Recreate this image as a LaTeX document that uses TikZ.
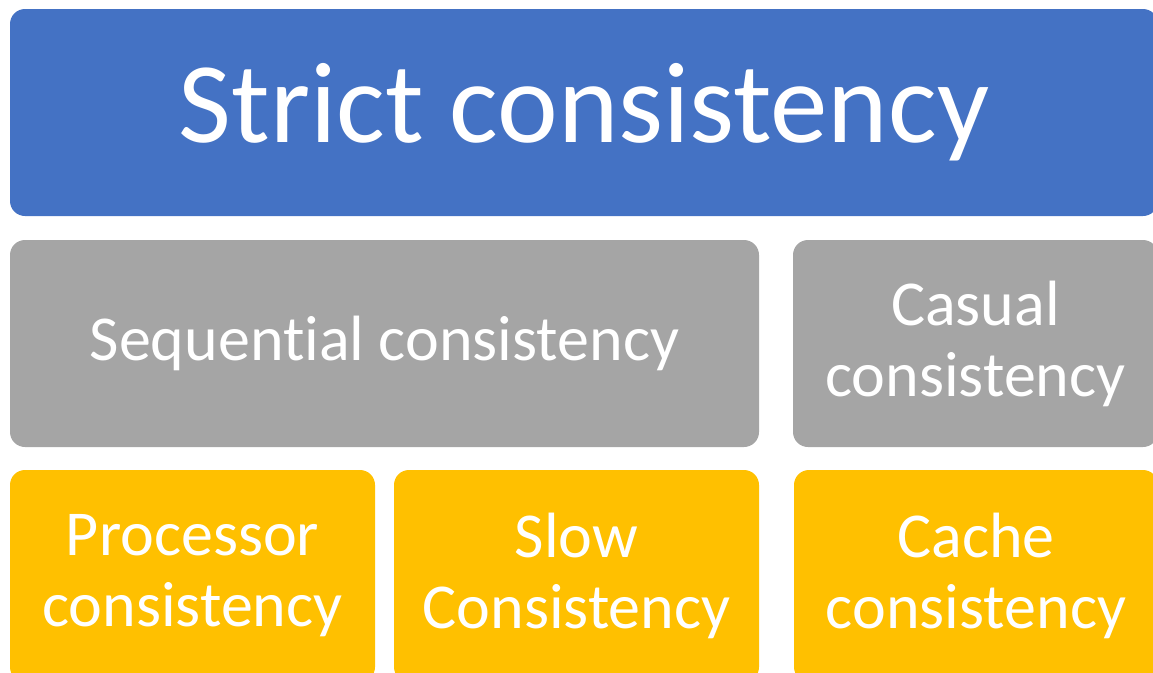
\documentclass[tikz,border=0pt]{standalone}
\usepackage{fontspec}
\setmainfont{Carlito}[Ligatures=NoCommon]
\definecolor{topblue}{HTML}{4472C4}
\definecolor{midgray}{HTML}{A5A5A5}
\definecolor{lowgold}{HTML}{FFC000}

\begin{document}
\begin{tikzpicture}
[x=1pt, y=-1pt,
box/.style={inner sep=0pt, rounded corners=15pt, text=white, align=center,
  font=\fontsize{64}{71}\selectfont},
boxb/.style={box, fill=topblue, font=\fontsize{115}{120}\selectfont},
boxg/.style={box, fill=midgray},
boxy/.style={box, fill=lowgold}]
\useasboundingbox (0,0) rectangle (1153,672);

% top level
\node (strict) at (584,112.5) [boxb, minimum width=1148pt, minimum height=207pt] {Strict consistency};

% middle level
\node (seq) at (384.5,343.5) [boxg, minimum width=749pt, minimum height=207pt] {Sequential consistency};
\node (casual) at (975.5,343.5) [boxg, minimum width=365pt, minimum height=207pt] {Casual\\consistency};

% bottom level (runs past the lower edge)
\node (proc) at (192.5,576) [boxy, minimum width=365pt, minimum height=212pt] {Processor\\consistency};
\node (slow) at (576.5,576) [boxy, minimum width=365pt, minimum height=212pt] {Slow\\Consistency};
\node (cache) at (976,576) [boxy, minimum width=364pt, minimum height=212pt] {Cache\\consistency};
\end{tikzpicture}
\end{document}
